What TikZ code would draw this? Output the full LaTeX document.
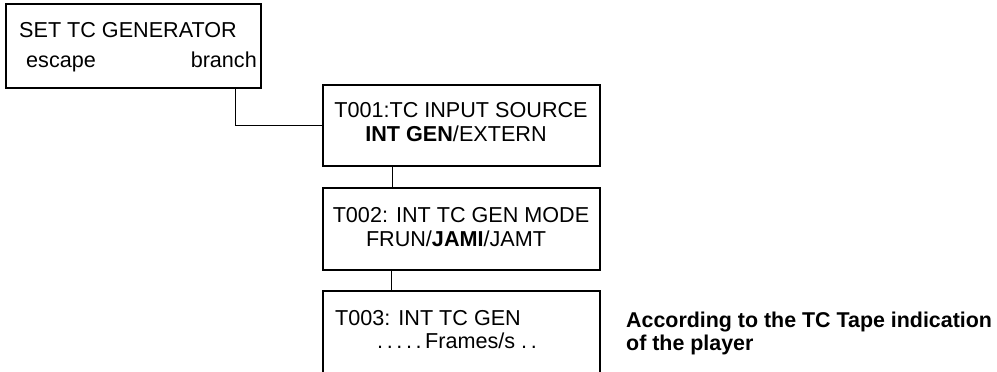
\documentclass[tikz,border=0pt]{standalone}
\usepackage{fontspec}
\setmainfont{Liberation Sans}
\begin{document}
\begin{tikzpicture}[x=1pt,y=-1pt,
  menubox/.style={draw, line width=1.8pt, rectangle, inner sep=0pt, anchor=north west},
  conn/.style={line width=0.8pt},
  txt/.style={inner sep=0pt, font=\fontsize{21.6}{24}\selectfont},
  note/.style={inner sep=0pt, font=\fontsize{21.4}{24}\selectfont\bfseries, anchor=base west}]
\useasboundingbox (0,0) rectangle (997,372);
\clip (0,0) rectangle (997,372);
% boxes
\node[menubox, minimum width=255pt, minimum height=84pt] (b1) at (5,3) {};
\node[menubox, minimum width=277pt, minimum height=81pt] (b2) at (322,84) {};
\node[menubox, minimum width=277pt, minimum height=82pt] (b3) at (322,187) {};
\node[menubox, minimum width=277pt, minimum height=120pt] (b4) at (322,290) {};
% texts
\node[txt, anchor=base west] (t1a) at (19,37) {SET TC GENERATOR};
\node[txt, anchor=base west] (t1b) at (26,67) {escape};
\node[txt, anchor=base east] (t1c) at (257,67) {branch};
\node[txt, anchor=base] (t2a) at (461,117) {T001:TC INPUT SOURCE};
\node[txt, anchor=base] (t2b) at (456,141) {\textbf{INT GEN}/EXTERN};
\node[txt, anchor=base] (t3a) at (461,222) {T002: INT TC GEN MODE};
\node[txt, anchor=base] (t3b) at (456,246) {FRUN/\textbf{JAMI}/JAMT};
\node[txt, anchor=base west] (t4a) at (335,325) {T003: INT TC GEN};
\node[txt, anchor=base west] (t4b) at (377,348) {.\,.\,.\,.\,.\,Frames/s .\,.};
\node[note] (n1) at (626,327) {According to the TC Tape indication};
\node[note] (n2) at (626,350) {of the player};
% connectors
\coordinate (k1) at (235,123);
\coordinate (k2) at (392,0);
\coordinate (k3) at (391,0);
\draw[conn] (b1.south -| k1) |- (b2.west);
\draw[conn] (b2.south -| k2) -- (b3.north -| k2);
\draw[conn] (b3.south -| k3) -- (b4.north -| k3);
\end{tikzpicture}
\end{document}
